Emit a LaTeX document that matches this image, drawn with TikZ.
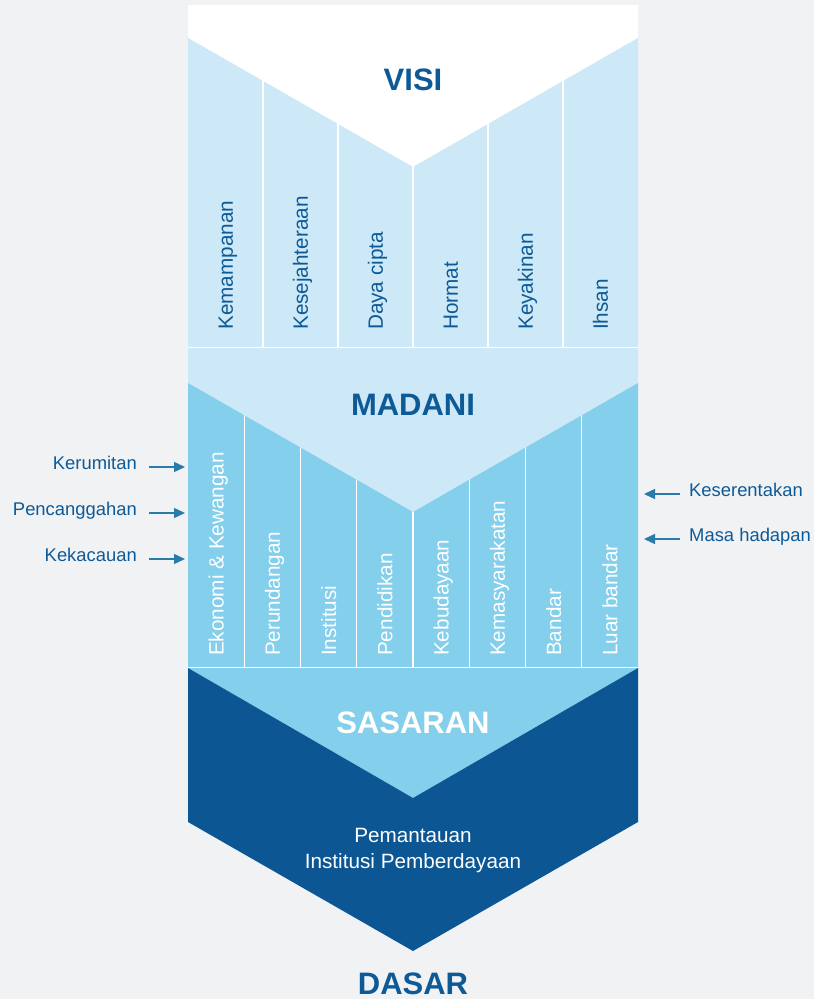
\documentclass[tikz,border=0pt]{standalone}
\usepackage{fontspec}
\setmainfont{Liberation Sans}
\usetikzlibrary{arrows.meta}

\definecolor{bgGrey}{HTML}{F1F2F4}
\definecolor{paleBlue}{HTML}{CDE8F6}
\definecolor{skyBlue}{HTML}{84CFEC}
\definecolor{deepBlue}{HTML}{0B5693}
\definecolor{inkBlue}{HTML}{0E5A97}
\definecolor{arrowBlue}{HTML}{2A7AAA}

\tikzset{title/.style={font=\fontsize{31}{36}\selectfont\bfseries, text=inkBlue, anchor=base, inner sep=0pt}}
\tikzset{pillar/.style={rotate=90, anchor=base west, inner sep=0pt, font=\fontsize{20.7}{24}\selectfont}}
\tikzset{side/.style={font=\fontsize{18.4}{22}\selectfont, text=inkBlue, inner sep=0pt}}
\tikzset{caption/.style={font=\fontsize{20.7}{24}\selectfont, text=white, anchor=base, inner sep=0pt}}
\tikzset{flow/.style={draw=arrowBlue, line width=1.3pt, -{Triangle[length=11pt,width=10pt]}}}
\tikzset{divider/.style={draw=white, line width=1.4pt}}
\def \xl {188}
\def \xr {638}
\def \xm {413}

\begin{document}
\begin{tikzpicture}[x=1pt, y=-1pt]

    \fill[bgGrey] (0,0) rectangle (814,999);
    \useasboundingbox (0,0) rectangle (814,999);

    % the four bands
    \fill[white] (\xl,5) -- (\xr,5) -- (\xr,38) -- (\xm,167) -- (\xl,38) -- cycle;
    \fill[paleBlue] (\xl,38) -- (\xm,167) -- (\xr,38) -- (\xr,383) -- (\xm,512) -- (\xl,383) -- cycle;
    \fill[skyBlue] (\xl,383) -- (\xm,512) -- (\xr,383) -- (\xr,668) -- (\xm,798) -- (\xl,668) -- cycle;
    \fill[deepBlue] (\xl,668) -- (\xm,798) -- (\xr,668) -- (\xr,822) -- (\xm,951) -- (\xl,822) -- cycle;

    \foreach \i in {1,...,5} {
    \draw[divider] ({\xl+75*\i},38) -- ({\xl+75*\i},347.5);
    }
    \draw[divider] (\xl,347.5) -- (\xr,347.5);

    \begin{scope}
    \clip (\xl,383) -- (\xm,512) -- (\xr,383) -- (\xr,668) -- (\xl,668) -- cycle;
    \foreach \i in {1,...,7} {
    \draw[divider] ({\xl+56.25*\i},383) -- ({\xl+56.25*\i},668);
    }
    \end{scope}
    \draw[divider] (\xl,667.5) -- (\xr,667.5);

    % pillars
    \foreach \txt [count=\i] in {Kemampanan, Kesejahteraan, Daya cipta, Hormat, Keyakinan, Ihsan} {
    \node[pillar, text=inkBlue] (visi-\i) at ({\xl+75*\i-37.5+7.4}, 330) {\txt};
    }
    \foreach \txt [count=\i] in {Ekonomi \& Kewangan, Perundangan, Institusi, Pendidikan, Kebudayaan, Kemasyarakatan, Bandar, Luar bandar} {
    \node[pillar, text=white] (madani-\i) at ({\xl+56.25*\i-28.125+7.4}, 656) {\txt};
    }

    \node[title] (visi) at (\xm,90) {VISI};
    \node[title] (madani) at (\xm,415) {MADANI};
    \node[title, text=white] (sasaran) at (\xm,733) {SASARAN};
    \node[title] (dasar) at (\xm,994) {DASAR};
    \node[caption] (pemantauan) at (\xm,842) {Pemantauan};
    \node[caption] (institusi) at (\xm,868) {Institusi Pemberdayaan};

    % side forces
    \node[side, anchor=mid east] (kerumitan) at (137,467) {Kerumitan};
    \node[side, anchor=mid east] (pencanggahan) at (137,513) {Pencanggahan};
    \node[side, anchor=mid east] (kekacauan) at (137,559) {Kekacauan};
    \node[side, anchor=mid west] (keserentakan) at (689,494) {Keserentakan};
    \node[side, anchor=mid west] (masahadapan) at (689,539) {Masa hadapan};

    \coordinate (leftedge) at (185,0);
    \coordinate (rightedge) at (644,0);
    \foreach \n in {kerumitan, pencanggahan, kekacauan} {
    \draw[flow] ([xshift=12pt]\n.mid east) -- (\n.mid east -| leftedge);
    }
    \foreach \n in {keserentakan, masahadapan} {
    \draw[flow] ([xshift=-9pt]\n.mid west) -- (\n.mid west -| rightedge);
    }

\end{tikzpicture}
\end{document}
